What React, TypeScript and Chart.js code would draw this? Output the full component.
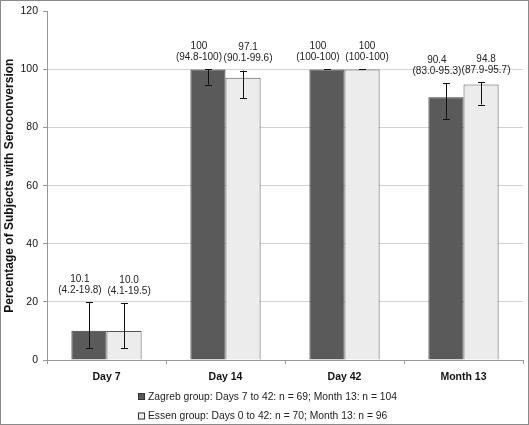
import React, { useEffect, useRef } from "react";
import { Chart, registerables } from "chart.js";

Chart.register(...registerables);

const categories = ["Day 7", "Day 14", "Day 42", "Month 13"];
const zagrebValues = [10.1, 100, 100, 90.4];
const zagrebLow = [4.2, 94.8, 100, 83.0];
const zagrebHigh = [19.8, 100, 100, 95.3];
const zagrebValueLabels = ["10.1", "100", "100", "90.4"];
const zagrebCILabels = ["(4.2-19.8)", "(94.8-100)", "(100-100)", "(83.0-95.3)"];
const essenValues = [10.0, 97.1, 100, 94.8];
const essenLow = [4.1, 90.1, 100, 87.9];
const essenHigh = [19.5, 99.6, 100, 95.7];
const essenValueLabels = ["10.0", "97.1", "100", "94.8"];
const essenCILabels = ["(4.1-19.5)", "(90.1-99.6)", "(100-100)", "(87.9-95.7)"];
const legendLabels = [
  "Zagreb group: Days 7 to 42: n = 69; Month 13: n = 104",
  "Essen group: Days 0 to 42: n = 70; Month 13: n = 96",
];
const yTicks = [0, 20, 40, 60, 80, 100, 120];

const FONT = "'Liberation Sans', Arial, sans-serif";
const DARK = "#5a5a5a";
const LIGHT = "#ececec";
const LABEL_SHIFT = [-9, 5];

const errorBarPlugin = {
  id: "errorBars",
  afterDatasetsDraw(chart: any) {
    const ctx = chart.ctx;
    const y = chart.scales.y;
    const lows = [zagrebLow, essenLow];
    const highs = [zagrebHigh, essenHigh];
    const vLabels = [zagrebValueLabels, essenValueLabels];
    const ciLabels = [zagrebCILabels, essenCILabels];
    ctx.save();
    chart.data.datasets.forEach((_: any, di: number) => {
      const meta = chart.getDatasetMeta(di);
      meta.data.forEach((bar: any, i: number) => {
        const x = bar.x;
        const yl = y.getPixelForValue(lows[di][i]);
        const yh = y.getPixelForValue(highs[di][i]);
        ctx.strokeStyle = "#111";
        ctx.lineWidth = 1;
        ctx.beginPath();
        ctx.moveTo(Math.round(x) + 0.5, yl);
        ctx.lineTo(Math.round(x) + 0.5, yh);
        ctx.moveTo(Math.round(x) - 3, Math.round(yl) + 0.5);
        ctx.lineTo(Math.round(x) + 4, Math.round(yl) + 0.5);
        ctx.moveTo(Math.round(x) - 3, Math.round(yh) + 0.5);
        ctx.lineTo(Math.round(x) + 4, Math.round(yh) + 0.5);
        ctx.stroke();
        ctx.fillStyle = "#222";
        ctx.font = `10px ${FONT}`;
        ctx.textAlign = "center";
        ctx.textBaseline = "middle";
        const lx = x + LABEL_SHIFT[di];
        ctx.fillText(ciLabels[di][i], lx, yh - 12);
        ctx.fillText(vLabels[di][i], lx, yh - 23);
      });
    });
    ctx.restore();
  },
};

const legendAndBorderPlugin = {
  id: "customLegend",
  afterDraw(chart: any) {
    const ctx = chart.ctx;
    ctx.save();
    const colors = [DARK, LIGHT];
    legendLabels.forEach((t, i) => {
      const yy = 397 + i * 19.5;
      ctx.fillStyle = colors[i];
      ctx.fillRect(138, yy - 4, 7, 7);
      ctx.strokeStyle = "#333";
      ctx.lineWidth = 1;
      ctx.strokeRect(138.5, yy - 3.5, 6, 6);
      ctx.fillStyle = "#222";
      ctx.font = `10.3px ${FONT}`;
      ctx.textAlign = "left";
      ctx.textBaseline = "middle";
      ctx.fillText(t, 148, yy);
    });
    ctx.strokeStyle = "#8a8a8a";
    ctx.lineWidth = 1;
    ctx.strokeRect(0.5, 0.5, chart.width - 1, chart.height - 1);
    ctx.restore();
  },
};

export default function App() {
  const ref = useRef<HTMLCanvasElement>(null);
  useEffect(() => {
    document.body.style.margin = "0";
    const chart = new Chart(ref.current as HTMLCanvasElement, {
      type: "bar",
      data: {
        labels: categories,
        datasets: [
          {
            label: legendLabels[0],
            data: zagrebValues,
            backgroundColor: DARK,
            borderColor: "#3a3a3a",
            borderWidth: 1,
            barPercentage: 1,
            categoryPercentage: 0.59,
          },
          {
            label: legendLabels[1],
            data: essenValues,
            backgroundColor: LIGHT,
            borderColor: "#555",
            borderWidth: 1,
            barPercentage: 1,
            categoryPercentage: 0.59,
          },
        ],
      },
      options: {
        animation: false,
        responsive: false,
        layout: { padding: { top: 10, right: 6, left: 2, bottom: 0 } },
        plugins: { legend: { display: false }, tooltip: { enabled: false } },
        scales: {
          x: {
            grid: { drawOnChartArea: false, drawTicks: true, tickLength: 4, color: "#999", offset: true },
            border: { color: "#999" },
            ticks: { color: "#111", font: { family: FONT, size: 10.5, weight: "bold" }, padding: 7 },
            afterFit(scale: any) {
              scale.height = 65;
            },
          },
          y: {
            min: 0,
            max: 120,
            afterBuildTicks(scale: any) {
              scale.ticks = yTicks.map((v) => ({ value: v }));
            },
            grid: {
              color: (c: any) => (c.tick && c.tick.value === 120 ? "rgba(0,0,0,0)" : "#d2d2d2"),
              tickColor: "#999",
              tickLength: 4,
            },
            border: { color: "#999" },
            ticks: { color: "#111", font: { family: FONT, size: 10.5 }, padding: 5 },
            title: {
              display: true,
              text: "Percentage of Subjects with Seroconversion",
              color: "#111",
              font: { family: FONT, size: 12, weight: "bold" },
              padding: 0,
            },
            afterFit(scale: any) {
              scale.width = 45;
            },
          },
        },
      },
      plugins: [errorBarPlugin, legendAndBorderPlugin],
    });
    return () => chart.destroy();
  }, []);
  return <canvas ref={ref} width={529} height={425} style={{ display: "block" }} />;
}
